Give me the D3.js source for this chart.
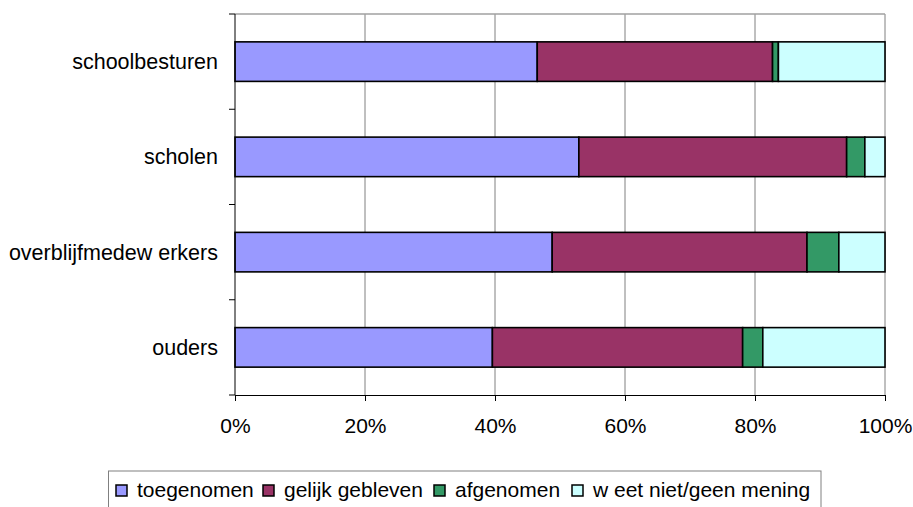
<!DOCTYPE html>
<html>
<head>
<meta charset="utf-8">
<script src="https://cdn.jsdelivr.net/npm/d3@7"></script>
<style>
  body { margin: 0; background: #fff; }
  svg text { font-family: "Liberation Sans", Arial, sans-serif; fill: #000; }
</style>
</head>
<body>
<div id="chart"></div>
<script>
// categories top to bottom
const categories = ["schoolbesturen", "scholen", "overblijfmedew erkers", "ouders"];
const seriesNames = ["toegenomen", "gelijk gebleven", "afgenomen", "w eet niet/geen mening"];
const toegenomen = [46.5, 52.9, 48.8, 39.6];
const gelijk = [36.2, 41.2, 39.2, 38.5];
const afgenomen = [0.9, 2.8, 4.9, 3.1];
const weetNiet = [16.4, 3.1, 7.1, 18.8];
const xTicks = [0, 20, 40, 60, 80, 100];
const colors = ["#9999ff", "#993366", "#339966", "#ccffff"];

const width = 913, height = 507;
const margin = { left: 235, right: 28, top: 14, bottom: 112 };

const svg = d3.select("#chart").append("svg")
    .attr("width", width)
    .attr("height", height);

const x = d3.scaleLinear().domain([0, 100]).range([margin.left, width - margin.right]);
const y = d3.scaleBand().domain(categories)
    .range([margin.top, height - margin.bottom])
    .paddingInner(0.585).paddingOuter(0.2925);

// build rows for stacking
const rows = categories.map((c, i) => ({
    cat: c,
    [seriesNames[0]]: toegenomen[i],
    [seriesNames[1]]: gelijk[i],
    [seriesNames[2]]: afgenomen[i],
    [seriesNames[3]]: weetNiet[i]
}));
const stacked = d3.stack().keys(seriesNames)(rows);

// gridlines
svg.append("g").selectAll("line")
    .data(xTicks.slice(1))
    .enter().append("line")
    .attr("x1", d => x(d)).attr("x2", d => x(d))
    .attr("y1", margin.top).attr("y2", height - margin.bottom)
    .style("stroke", "#808080").style("stroke-width", 1);

// top border of plot area
svg.append("line")
    .attr("x1", x(0)).attr("x2", x(100))
    .attr("y1", margin.top).attr("y2", margin.top)
    .style("stroke", "#a0a0a0").style("stroke-width", 1.5);

// bars
svg.append("g").selectAll("g")
    .data(stacked)
    .enter().append("g")
    .style("fill", (d, i) => colors[i])
    .selectAll("rect")
    .data(d => d)
    .enter().append("rect")
    .attr("x", d => x(d[0]))
    .attr("width", d => x(d[1]) - x(d[0]))
    .attr("y", d => y(d.data.cat))
    .attr("height", y.bandwidth())
    .style("stroke", "#000")
    .style("stroke-width", 1.6);

// x axis
const xAxis = svg.append("g")
    .attr("transform", `translate(0,${height - margin.bottom})`)
    .call(d3.axisBottom(x).tickValues(xTicks).tickFormat(d => d + "%").tickSize(6).tickSizeOuter(0));
xAxis.select(".domain").style("stroke", "#000");
xAxis.selectAll(".tick line").style("stroke", "#000");
xAxis.selectAll("text")
    .style("font-size", "21px")
    .attr("y", 0)
    .attr("dy", "38px");

// y axis line and ticks at band boundaries
const yAxis = svg.append("g").attr("transform", `translate(${x(0)},0)`);
yAxis.append("line")
    .attr("x1", 0).attr("x2", 0)
    .attr("y1", margin.top).attr("y2", height - margin.bottom)
    .style("stroke", "#000");
const bounds = d3.range(categories.length + 1).map(i => margin.top + i * y.step());
yAxis.selectAll(".bt")
    .data(bounds)
    .enter().append("line")
    .attr("x1", -6).attr("x2", 0)
    .attr("y1", d => d).attr("y2", d => d)
    .style("stroke", "#000");
yAxis.selectAll("text")
    .data(categories)
    .enter().append("text")
    .attr("x", -17)
    .attr("y", d => y(d) + y.bandwidth() / 2)
    .attr("dy", "0.35em")
    .attr("text-anchor", "end")
    .style("font-size", "21.5px")
    .text(d => d);

// legend
const legend = svg.append("g");
legend.append("rect")
    .attr("x", 108.5).attr("y", 471)
    .attr("width", 712.5).attr("height", 44)
    .style("fill", "#fff")
    .style("stroke", "#808080");
const itemX = [116, 263, 434, 572];
seriesNames.forEach((name, i) => {
    legend.append("rect")
        .attr("x", itemX[i]).attr("y", 485)
        .attr("width", 11).attr("height", 11)
        .style("fill", colors[i])
        .style("stroke", "#000")
        .style("stroke-width", 1.5);
    legend.append("text")
        .attr("x", itemX[i] + 21)
        .attr("y", 490)
        .attr("dy", "0.35em")
        .style("font-size", "21px")
        .text(name);
});
</script>
</body>
</html>
